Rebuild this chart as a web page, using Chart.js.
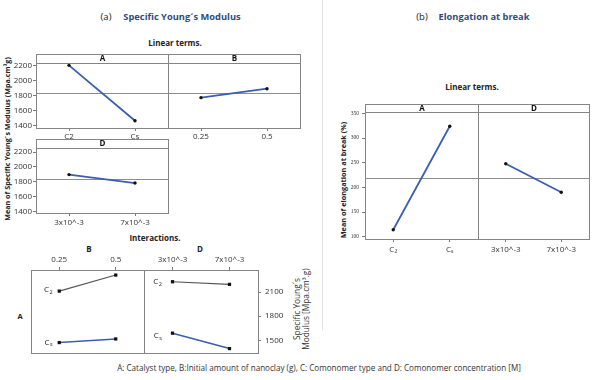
<!DOCTYPE html>
<html><head><meta charset="utf-8">
<script src="https://cdn.jsdelivr.net/npm/chart.js@4.4.1/dist/chart.umd.min.js"></script>
<style>
body{margin:0;background:#fff;width:600px;height:380px;overflow:hidden;position:relative;font-family:"Open Sans",sans-serif;color:#222;}
canvas{position:absolute;left:0;top:0;}
.t{position:absolute;white-space:nowrap;line-height:1;transform:translate(-50%,-50%);}
.r{transform:translate(-50%,-50%) rotate(-90deg);}
.b{font-weight:bold;}
.blue{color:#2f4c80;}
</style></head><body>
<div style="position:absolute;left:322px;top:0;width:1px;height:330px;background:#e2e2e2"></div>
<div class="t" style="left:106px;top:17px;font-size:9.5px">(a)</div>
<div class="t b blue" style="left:182px;top:17px;font-size:9.3px">Specific Young´s Modulus</div>
<div class="t b" style="left:175px;top:43px;font-size:8px">Linear terms.</div>
<div class="t b r" style="left:8px;top:139px;font-size:7.2px">Mean of Specific Young´s Modulus (Mpa.cm³g)</div>
<div class="t b" style="left:155px;top:238px;font-size:8px">Interactions.</div>
<div class="t b" style="left:89px;top:249px;font-size:8px">B</div>
<div class="t b" style="left:200px;top:249px;font-size:8px">D</div>
<div class="t b" style="left:20px;top:317px;font-size:7.5px">A</div>
<div class="t r" style="left:301px;top:309px;font-size:8.3px;line-height:1.1;text-align:center;color:#333">Specific Young´s<br>Modulus [Mpa.cm³.g)</div>
<div class="t" style="left:422px;top:17px;font-size:9.5px">(b)</div>
<div class="t b blue" style="left:484px;top:17px;font-size:9.3px">Elongation at break</div>
<div class="t b" style="left:472px;top:87px;font-size:8px">Linear terms.</div>
<div class="t b r" style="left:344px;top:180px;font-size:7.3px">Mean of elongation at break (%)</div>
<div class="t" style="left:319px;top:368px;font-size:8.1px;color:#333">A: Catalyst type, B:Initial amount of nanoclay (g), C: Comonomer type and D: Comonomer concentration [M]</div>
<script>
// ---- data ----
const modCatsA = ['C2', 'Cs'];
const modValsA = [2205, 1470];
const modCatsB = ['0.25', '0.5'];
const modValsB = [1776, 1895];
const modCatsD = ['3x10^-3', '7x10^-3'];
const modValsD = [1895, 1781];
const modMean = 1836;
const modTicks = [1400, 1600, 1800, 2000, 2200];

const intCatsB = ['0.25', '0.5'];
const intCatsD = ['3x10^-3', '7x10^-3'];
const intC2B = [2112, 2312];
const intCsB = [1471, 1516];
const intC2D = [2229, 2196];
const intCsD = [1588, 1396];
const intTicks = [1500, 1800, 2100];

const elCatsA = ['C₂', 'Cₛ'];
const elValsA = [114, 324];
const elCatsD = ['3x10^-3', '7x10^-3'];
const elValsD = [248, 190];
const elMean = 219;
const elTicks = [100, 150, 200, 250, 300, 350];

// ---- helpers ----
const BLUE = '#3b5eb0';
const FONT = '"Open Sans", sans-serif';

const framePlugin = {
  id: 'frame',
  beforeDatasetsDraw(chart, args, o) {
    const ctx = chart.ctx, a = chart.chartArea;
    const sh = o.stripH || 0;
    const L = Math.round(a.left) + 0.5, R = Math.round(a.right) + 0.5;
    const T = Math.round(a.top - sh) + 0.5, B = Math.round(a.bottom) + 0.5;
    ctx.save();
    ctx.strokeStyle = '#858585';
    ctx.lineWidth = 1;
    ctx.strokeRect(L, T, R - L, B - T);
    if (sh) {
      const ys = Math.round(a.top) + 0.5;
      ctx.beginPath(); ctx.moveTo(L, ys); ctx.lineTo(R, ys); ctx.stroke();
      ctx.fillStyle = '#111';
      ctx.font = 'bold 8px ' + FONT;
      ctx.textAlign = 'center'; ctx.textBaseline = 'middle';
      ctx.fillText(o.strip, (L + R) / 2, a.top - sh / 2 + 0.5);
    }
    if (o.mean != null) {
      const y = Math.round(chart.scales.y.getPixelForValue(o.mean)) + 0.5;
      ctx.strokeStyle = '#8d8d8d';
      ctx.beginPath(); ctx.moveTo(L, y); ctx.lineTo(R, y); ctx.stroke();
    }
    ctx.restore();
  },
  afterDatasetsDraw(chart, args, o) {
    if (!o.labels) return;
    const ctx = chart.ctx;
    ctx.save();
    ctx.fillStyle = '#222';
    ctx.textBaseline = 'middle';
    o.labels.forEach(l => {
      const el = chart.getDatasetMeta(l.ds).data[l.i];
      ctx.font = '8px ' + FONT;
      const w1 = ctx.measureText('C').width;
      ctx.font = '5.5px ' + FONT;
      const w2 = ctx.measureText(l.sub).width;
      const x = el.x - l.gap - w1 - w2, y = el.y + l.dy;
      ctx.font = '8px ' + FONT;
      ctx.fillText('C', x, y);
      ctx.font = '5.5px ' + FONT;
      ctx.fillText(l.sub, x + w1 + 0.3, y + 2.3);
    });
    ctx.restore();
  }
};

function yScale(min, max, ticks, show, pos, yw, font, pad) {
  return {
    type: 'linear', min, max, display: show, position: pos,
    afterBuildTicks: s => { s.ticks = ticks.map(v => ({ value: v })); },
    afterFit: s => { s.width = yw; },
    grid: { drawOnChartArea: false, tickLength: 3, color: '#7a7a7a' },
    border: { display: false },
    ticks: { font, color: '#333', padding: pad, callback: v => String(v) }
  };
}
function xScale(pos, xh, pad) {
  return {
    type: 'category', offset: true, position: pos,
    afterFit: s => { s.height = xh; },
    grid: { drawOnChartArea: false, tickLength: 3, color: '#7a7a7a', offset: false },
    border: { display: false },
    ticks: { font: { size: 8, family: FONT, lineHeight: 1 }, color: '#333', padding: pad, maxRotation: 0, autoSkip: false }
  };
}
function lineDs(vals, color, width, style, r) {
  return {
    data: vals, borderColor: color, borderWidth: width, tension: 0,
    pointStyle: style, pointRadius: r, pointBackgroundColor: '#111', pointBorderColor: '#111',
    pointBorderWidth: 0, clip: false
  };
}
function panel(p) {
  const c = document.createElement('canvas');
  c.width = 600; c.height = 380;
  document.body.appendChild(c);
  const yw = p.yShow ? p.yw : 0;
  const padding = p.yPos === 'right'
    ? { left: p.L, right: 600 - p.R - yw }
    : { left: p.L - yw, right: 600 - p.R };
  if (p.xPos === 'top') { padding.top = p.T - p.xh; padding.bottom = 380 - p.B; }
  else { padding.top = p.T; padding.bottom = 380 - p.B - p.xh; }
  new Chart(c, {
    type: 'line',
    data: { labels: p.labels, datasets: p.datasets },
    options: {
      responsive: false, animation: false, devicePixelRatio: 1, events: [],
      layout: { padding },
      scales: {
        x: xScale(p.xPos || 'bottom', p.xh, p.xPad),
        y: yScale(p.min, p.max, p.ticks, p.yShow, p.yPos || 'left', yw, p.yFont, p.yPad)
      },
      plugins: {
        legend: { display: false }, tooltip: { enabled: false },
        frame: { stripH: p.stripH, strip: p.strip, mean: p.mean, labels: p.labels2 }
      }
    },
    plugins: [framePlugin]
  });
}

const modFont = { size: 8, family: FONT };
// top-left linear terms
panel({ L: 36, R: 168, T: 63, B: 128, stripH: 9, strip: 'A', labels: modCatsA,
  datasets: [lineDs(modValsA, BLUE, 1.8, 'circle', 1.7)], min: 1373, max: 2236, ticks: modTicks,
  yShow: true, yw: 36, yFont: modFont, yPad: 1, xh: 16, xPad: 2, mean: modMean });
panel({ L: 168, R: 300, T: 63, B: 128, stripH: 9, strip: 'B', labels: modCatsB,
  datasets: [lineDs(modValsB, BLUE, 1.8, 'circle', 1.7)], min: 1373, max: 2236, ticks: modTicks,
  yShow: false, yw: 0, yFont: modFont, yPad: 1, xh: 16, xPad: 2, mean: modMean });
panel({ L: 36, R: 168, T: 148, B: 213, stripH: 9, strip: 'D', labels: modCatsD,
  datasets: [lineDs(modValsD, BLUE, 1.8, 'circle', 1.7)], min: 1377, max: 2254, ticks: modTicks,
  yShow: true, yw: 36, yFont: modFont, yPad: 1, xh: 16, xPad: 3, mean: modMean });

// interactions
panel({ L: 31, R: 144, T: 270, B: 353, labels: intCatsB, xPos: 'top',
  datasets: [lineDs(intC2B, '#555', 1.1, 'rect', 2.3), lineDs(intCsB, BLUE, 1.6, 'rect', 2.3)],
  min: 1341, max: 2375, ticks: intTicks, yShow: false, yw: 0, yFont: modFont, yPad: 1, xh: 20, xPad: 3,
  labels2: [{ ds: 0, i: 0, sub: '2', gap: 7, dy: -1 }, { ds: 1, i: 0, sub: 's', gap: 7, dy: 0 }] });
panel({ L: 144, R: 258, T: 270, B: 353, labels: intCatsD, xPos: 'top',
  datasets: [lineDs(intC2D, '#555', 1.1, 'rect', 2.3), lineDs(intCsD, BLUE, 1.6, 'rect', 2.3)],
  min: 1341, max: 2375, ticks: intTicks, yShow: true, yPos: 'right', yw: 34, yFont: modFont, yPad: 4, xh: 20, xPad: 3,
  labels2: [{ ds: 0, i: 0, sub: '2', gap: 11, dy: 0 }, { ds: 1, i: 0, sub: 's', gap: 11, dy: 3 }] });

// (b) elongation
const elFont = { size: 5.5, family: '"Liberation Serif", serif' };
panel({ L: 365, R: 478, T: 112, B: 239, stripH: 8, strip: 'A', labels: elCatsA,
  datasets: [lineDs(elValsA, BLUE, 1.8, 'circle', 1.7)], min: 95.3, max: 352.8, ticks: elTicks,
  yShow: true, yw: 20, yFont: elFont, yPad: 3, xh: 16, xPad: 4, mean: elMean });
panel({ L: 478, R: 589, T: 112, B: 239, stripH: 8, strip: 'D', labels: elCatsD,
  datasets: [lineDs(elValsD, BLUE, 1.8, 'circle', 1.7)], min: 95.3, max: 352.8, ticks: elTicks,
  yShow: false, yw: 0, yFont: elFont, yPad: 3, xh: 16, xPad: 4, mean: elMean });
</script>
</body></html>
